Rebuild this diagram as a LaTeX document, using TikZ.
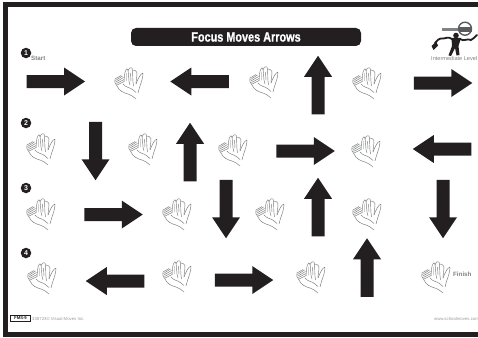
\documentclass[tikz,border=0pt]{standalone}
\usepackage{fontspec}
\setmainfont{Liberation Sans}
\newfontfamily\titlefont[FakeStretch=0.8,FakeBold=0.9]{Liberation Sans Bold}
\usetikzlibrary{positioning}
\definecolor{cardblack}{HTML}{231F20}
\definecolor{cardgray}{HTML}{808285}
\definecolor{handgray}{HTML}{77797B}
\tikzset{
  blockarrow/.pic={
    \fill[cardblack] (-29.25,-6.5) -- (8.25,-6.5) -- (8.25,-14) -- (29.25,0)
      -- (8.25,14) -- (8.25,6.5) -- (-29.25,6.5) -- cycle;
  },
  clap/.pic={
    % left hand, short fingers
    \draw[handline] (-14,-4) -- (-8,-7.5) (-13.5,-2.5) -- (-6.5,-7) (-13,-1) -- (-5.5,-5.5)
      (-12.5,0.5) -- (-5,-3.5) (-12,2) -- (-5,-1.5);
    \draw[handline] (-14,-4) .. controls (-15,-2) and (-14,1) .. (-12,3)
      .. controls (-10,8) and (-5,10) .. (-1,11) .. controls (2,12) and (5,14) .. (7,16);
    % right hand, long fingers
    \draw[handline] (-5,-1) -- (-4.5,-8) .. controls (-4,-12) and (-2.5,-15) .. (-1.5,-14)
      .. controls (-0.5,-12) and (-0.5,-7) .. (0,-2) -- (1,2);
    \draw[handline] (-1,-12) .. controls (0,-15) and (2,-16.5) .. (3,-15)
      .. controls (4,-12) and (3.5,-6) .. (4,-1) -- (4.5,3);
    \draw[handline] (3.5,-13) .. controls (5,-13) and (7.5,-12.5) .. (8,-10.5)
      .. controls (8,-6) and (7,-2) .. (7,1);
    \draw[handline] (1.5,-10) -- (2,-2) (-2.5,-10) -- (-2.5,-2);
    % thumb and wrist
    \draw[handline] (7,1) .. controls (9,-4) and (11,-9) .. (14,-10)
      .. controls (14,-5) and (12,0) .. (11,3) .. controls (10,6) and (9.5,8) .. (9,10);
    \draw[handline] (-6,1) .. controls (-3,5) and (1,4) .. (4,7) -- (7,9.5);
  }
}
\begin{document}
\begin{tikzpicture}[
    x=1pt,
    y=-1pt,
    handline/.style={draw=handgray, line width=0.45pt, line cap=round, line join=round},
    bullet/.style={circle, fill=cardblack, text=white, inner sep=0pt, minimum size=10.5pt,
      font=\bfseries\fontsize{7}{7}\selectfont},
    graytext/.style={text=cardgray, inner sep=0pt, font=\bfseries\fontsize{6.2}{7}\selectfont},
    finetext/.style={text=cardgray!80, inner sep=0pt, font=\fontsize{4.3}{5}\selectfont}
  ]
  \useasboundingbox (0,0) rectangle (478,337);
  \fill[white] (0,0) rectangle (478,337);
  \draw[cardblack, line width=5pt] (478,4.5) -- (5.5,4.5) -- (5.5,334.5) -- (478,334.5);

  % title bar
  \node[fill=cardblack, rounded corners=5pt, minimum width=230pt, minimum height=18pt,
        inner sep=0pt, text=white, font=\titlefont\fontsize{13.6}{14}\selectfont]
        (title) at (246,37) {Focus Moves Arrows};

  % row numbers
  \foreach \n/\y in {1/53,2/123,3/188,4/253} {
    \node[bullet] (num\n) at (26,\y) {\n};
  }
  \node[graytext, anchor=west] (start) at (31,58.5) {Start};

  % arrows
  \foreach \x/\y/\a in {55.75/81.5/0, 199.5/81.5/180, 318/85/90, 443/83/0,
      95.5/151/-90, 190/152/90, 305.5/151/0, 442/149/180,
      113.5/214.5/0, 226/209/-90, 318/207/90, 443/209/-90,
      115/281/180, 244/280/0, 367/267.5/90} {
    \pic[rotate=\a] at (\x,\y) {blockarrow};
  }

  % hands
  \foreach \x/\y in {129/83, 264/82, 367/83,
      41/149, 143/149, 233/150, 366/151,
      41/214, 177/214, 270/214, 367/214,
      42/278, 177/276, 311/277, 436/277} {
    \pic at (\x,\y) {clap};
  }
  \node[graytext, anchor=west] (finish) at (453,274.5) {Finish};

  % level figure
  \fill[cardgray] (442,28) rectangle (460,31);
  \draw[cardgray!70!black, line width=1.4pt, fill=white] (465,28.7) circle (6.5pt);
  \fill[cardgray!70!black] (458.5,27.5) rectangle (471.5,32.5);
  \fill[cardblack] (456,35.5) circle (2.8pt);
  \fill[cardblack] (451.5,38) -- (461,38) -- (458.5,46) -- (459.5,55) -- (456.5,55.5) -- (455,48)
    -- (451,56) -- (448.5,55.5) -- (452,46) -- cycle;
  \draw[cardblack, line width=1.8pt, line cap=round, line join=round] (452,39)
    .. controls (448,36) and (445,39) .. (442,38.5) .. controls (439,38) and (437,41) .. (435,43);
  \fill[cardblack] (431.5,46) -- (436,41.5) -- (438,45.5) -- (433.5,50) -- cycle;
  \draw[cardblack, line width=1.8pt, line cap=round, line join=round] (460,39)
    .. controls (464,42) and (467,38) .. (471,40) .. controls (473,39) and (475,37) .. (477,35);
  \node[graytext, font=\fontsize{5.6}{6}\selectfont, anchor=west] (level) at (431,58) {Intermediate Level};

  % footer
  \node[draw=cardblack, line width=0.9pt, inner xsep=1pt, inner ysep=0pt, minimum width=20pt,
        minimum height=5.5pt, font=\bfseries\fontsize{4.2}{5}\selectfont, text=cardblack]
        (code) at (20.5,318.5) {FMS-9};
  \node[finetext, anchor=west] (notice) at (32,318.5) {338723© Visual Moves Inc.};
  \node[finetext, anchor=west] (site) at (434,318.5) {www.schoolmoves.com};
\end{tikzpicture}
\end{document}
